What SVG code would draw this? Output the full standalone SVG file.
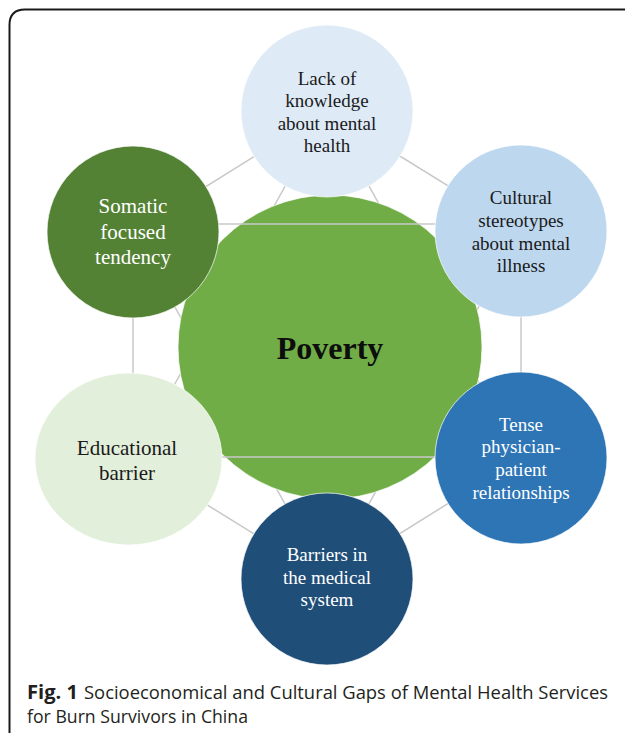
<svg xmlns="http://www.w3.org/2000/svg" width="625" height="733" viewBox="0 0 625 733">
<style>
.conn{stroke:#c8c8c8;stroke-width:1.5;fill:none}
.node{stroke:#ffffff;stroke-width:1;stroke-opacity:0.7}
.lbl{font-family:"Liberation Serif","Times New Roman",serif;font-size:19px;text-anchor:middle}
.big{font-size:21px}
.dark{fill:#1a1a1a}
.light{fill:#ffffff}
.cap{font-family:"Open Sans","Noto Sans",sans-serif;font-size:19px;fill:#231f20}
</style>
<rect x="0" y="0" width="625" height="733" fill="#ffffff"/>
<path d="M9.5 733 V25 Q9.5 9.5 25 9.5 H625" fill="none" stroke="#1a1a1a" stroke-width="2"/>
<g id="connectors">
<line class="conn" x1="327" y1="111" x2="133" y2="232"/>
<line class="conn" x1="327" y1="111" x2="521" y2="231"/>
<line class="conn" x1="521" y1="231" x2="521" y2="458"/>
<line class="conn" x1="521" y1="458" x2="327" y2="579"/>
<line class="conn" x1="327" y1="579" x2="133" y2="459"/>
<line class="conn" x1="133" y1="459" x2="133" y2="232"/>
<line class="conn" x1="327" y1="111" x2="133" y2="459"/>
<line class="conn" x1="327" y1="111" x2="521" y2="458"/>
<line class="conn" x1="133" y1="232" x2="327" y2="579"/>
<line class="conn" x1="521" y1="231" x2="327" y2="579"/>
</g>
<g id="poverty">
<circle class="node" cx="330" cy="347" r="152" fill="#70ad47"/>
<text x="330" y="359" font-family="Liberation Serif,Times New Roman,serif" font-size="32" font-weight="bold" text-anchor="middle" fill="#0d0d0d">Poverty</text>
</g>
<g id="connectors-front">
<line class="conn" x1="133" y1="224" x2="521" y2="224"/>
<line class="conn" x1="133" y1="457" x2="521" y2="457"/>
</g>
<g id="lack-knowledge">
<circle class="node" cx="327" cy="111" r="86" fill="#deebf7"/>
<text class="lbl dark" x="327" y="85">Lack of</text>
<text class="lbl dark" x="327" y="107">knowledge</text>
<text class="lbl dark" x="327" y="130">about mental</text>
<text class="lbl dark" x="327" y="152">health</text>
</g>
<g id="cultural-stereotypes">
<circle class="node" cx="521" cy="231" r="86" fill="#bdd7ee"/>
<text class="lbl dark" x="521" y="204">Cultural</text>
<text class="lbl dark" x="521" y="227">stereotypes</text>
<text class="lbl dark" x="521" y="250">about mental</text>
<text class="lbl dark" x="521" y="272">illness</text>
</g>
<g id="tense-relationships">
<circle class="node" cx="521" cy="458" r="86" fill="#2e75b6"/>
<text class="lbl light" x="521" y="431">Tense</text>
<text class="lbl light" x="521" y="453">physician-</text>
<text class="lbl light" x="521" y="476">patient</text>
<text class="lbl light" x="521" y="499">relationships</text>
</g>
<g id="medical-barriers">
<circle class="node" cx="327" cy="579" r="86" fill="#1f4e79"/>
<text class="lbl light" x="327" y="561">Barriers in</text>
<text class="lbl light" x="327" y="584">the medical</text>
<text class="lbl light" x="327" y="606">system</text>
</g>
<g id="educational-barrier">
<ellipse class="node" cx="128.5" cy="459" rx="93.5" ry="86" fill="#e2efda"/>
<text class="lbl big dark" x="127" y="455">Educational</text>
<text class="lbl big dark" x="127" y="480">barrier</text>
</g>
<g id="somatic-tendency">
<circle class="node" cx="133" cy="232" r="86" fill="#548235"/>
<text class="lbl big light" x="133" y="213">Somatic</text>
<text class="lbl big light" x="133" y="239">focused</text>
<text class="lbl big light" x="133" y="264">tendency</text>
</g>
<g id="caption">
<text class="cap" x="27" y="699" font-weight="bold" textLength="51" lengthAdjust="spacingAndGlyphs">Fig. 1</text>
<text class="cap" x="84" y="699" textLength="524" lengthAdjust="spacingAndGlyphs">Socioeconomical and Cultural Gaps of Mental Health Services</text>
<text class="cap" x="27" y="723" textLength="221" lengthAdjust="spacingAndGlyphs">for Burn Survivors in China</text>
</g>
</svg>
